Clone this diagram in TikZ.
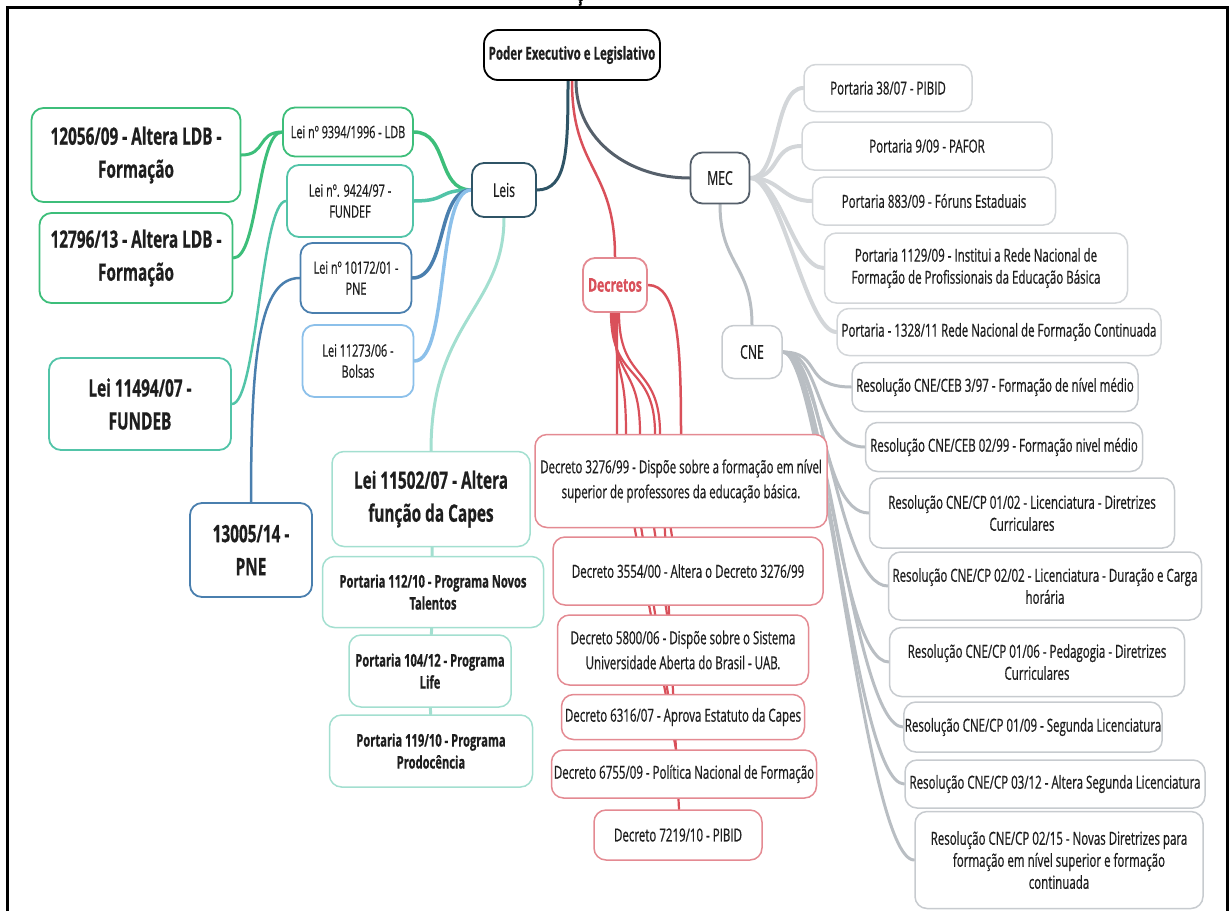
\documentclass[tikz,border=0pt]{standalone}
\usepackage{fontspec}
\setmainfont{Open Sans}[FakeStretch=0.64, FakeBold=0.6]
\usetikzlibrary{backgrounds}
\definecolor{leisblue}{HTML}{2F5466}
\definecolor{ldbgreen}{HTML}{3DBE7A}
\definecolor{fundteal}{HTML}{52C4A8}
\definecolor{pneblue}{HTML}{4A7FAE}
\definecolor{bolsablue}{HTML}{8CC0EA}
\definecolor{capesteal}{HTML}{A3DFD0}
\definecolor{decred}{HTML}{D9505A}
\definecolor{decbox}{HTML}{E48A92}
\definecolor{mecgray}{HTML}{56606B}
\definecolor{portgray}{HTML}{D3D6D9}
\definecolor{cnegray}{HTML}{B9BEC3}
\definecolor{inkgray}{HTML}{1E1E1E}

\begin{document}
\begin{tikzpicture}[x=1pt, y=-1pt,
  box/.style={draw, fill=white, rounded corners=12pt, line width=1.5pt, align=center, inner sep=1pt, text=inkgray, font=\fontsize{18}{22}\selectfont},
  hub/.style={box, line width=1.8pt, font=\fontsize{19}{22}\selectfont},
  bigbox/.style={box, line width=1.8pt, font=\bfseries\fontsize{24}{33}\selectfont},
  lei/.style={box, line width=1.8pt, font=\fontsize{17}{21}\selectfont},
  capes/.style={box, draw=capesteal, font=\bfseries\fontsize{17.5}{22}\selectfont},
  dec/.style={box, draw=decbox, font=\fontsize{18}{25}\selectfont},
  mecbox/.style={box, draw=portgray},
  cnebox/.style={box, draw=cnegray!80},
  link/.style={line width=3pt, line cap=round}
]
\useasboundingbox (0,0) rectangle (1231,911);
\draw[line width=3pt] (7,911) -- (7,7) -- (1227,7) -- (1227,911);
\node[font=\bfseries\fontsize{20}{20}\selectfont, anchor=base] (titlefrag) at (580,1) {ç};

% centre
\node[box, draw=black, line width=1.8pt, rounded corners=14pt, font=\bfseries\fontsize{18}{22}\selectfont, minimum width=176, minimum height=50] (poder) at (572,55) {Poder Executivo e Legislativo};
\node[hub, draw=leisblue, minimum width=64, minimum height=54] (leis) at (504,190) {Leis};
\node[hub, draw=mecgray, minimum width=59, minimum height=51] (mec) at (720,178) {MEC};
\node[hub, draw=decbox, text=decred, font=\bfseries\fontsize{19}{22}\selectfont, minimum width=64, minimum height=54] (decretos) at (615,285) {Decretos};
\node[hub, draw=cnegray!80, line width=1.5pt, minimum width=60, minimum height=53] (cne) at (752,352) {CNE};

% leis
\node[lei, draw=ldbgreen, minimum width=130, minimum height=49] (l9394) at (348,132) {Lei nº 9394/1996 - LDB};
\node[lei, draw=fundteal, minimum width=126, minimum height=72] (l9424) at (350,201) {Lei nº. 9424/97 -\\FUNDEF};
\node[lei, draw=pneblue, minimum width=111, minimum height=70] (l10172) at (356,278) {Lei nº 10172/01 -\\PNE};
\node[lei, draw=bolsablue, minimum width=111, minimum height=72] (l11273) at (358,361) {Lei 11273/06 -\\Bolsas};
\node[bigbox, draw=ldbgreen, minimum width=209, minimum height=94] (f12056) at (136,155) {12056/09 - Altera LDB -\\Formação};
\node[bigbox, draw=ldbgreen, minimum width=193, minimum height=90] (f12796) at (136,258) {12796/13 - Altera LDB -\\Formação};
\node[bigbox, draw=fundteal, minimum width=182, minimum height=92] (f11494) at (140,404) {Lei 11494/07 -\\FUNDEB};
\node[bigbox, draw=pneblue, minimum width=122, minimum height=94] (f13005) at (251,550) {13005/14 -\\PNE};
\node[bigbox, draw=capesteal, line width=1.5pt, minimum width=198, minimum height=95] (c11502) at (431,499) {Lei 11502/07 - Altera\\função da Capes};
\node[capes, minimum width=221, minimum height=71] (c112) at (433,592) {Portaria 112/10 - Programa Novos\\Talentos};
\node[capes, minimum width=162, minimum height=72] (c104) at (430,671) {Portaria 104/12 - Programa\\Life};
\node[capes, minimum width=203, minimum height=72] (c119) at (431,751) {Portaria 119/10 - Programa\\Prodocência};

% decretos
\node[dec, minimum width=292, minimum height=93] (d3276) at (681,481) {Decreto 3276/99 - Dispõe sobre a formação em nível\\superior de professores da educação básica.};
\node[dec, minimum width=270, minimum height=68] (d3554) at (688,571) {Decreto 3554/00 - Altera o Decreto 3276/99};
\node[dec, minimum width=251, minimum height=70] (d5800) at (683,650) {Decreto 5800/06 - Dispõe sobre o Sistema\\Universidade Aberta do Brasil - UAB.};
\node[dec, minimum width=243, minimum height=45] (d6316) at (683,717) {Decreto 6316/07 - Aprova Estatuto da Capes};
\node[dec, minimum width=265, minimum height=48] (d6755) at (684,774) {Decreto 6755/09 - Política Nacional de Formação};
\node[dec, minimum width=168, minimum height=50] (d7219) at (678,835) {Decreto 7219/10 - PIBID};

% mec
\node[mecbox, minimum width=168, minimum height=47] (p38) at (888,88) {Portaria 38/07 - PIBID};
\node[mecbox, minimum width=250, minimum height=48] (p909) at (927,146) {Portaria 9/09 - PAFOR};
\node[mecbox, minimum width=243, minimum height=48] (p883) at (934,201) {Portaria 883/09 - Fóruns Estaduais};
\node[mecbox, minimum width=303, minimum height=70] (p1129) at (976,268) {Portaria 1129/09 - Institui a Rede Nacional de\\Formação de Profissionais da Educação Básica};
\node[mecbox, minimum width=324, minimum height=47] (p1328) at (999,332) {Portaria - 1328/11 Rede Nacional de Formação Continuada};

% cne
\node[cnebox, minimum width=286, minimum height=49] (r397) at (995,387) {Resolução CNE/CEB 3/97 - Formação de nível médio};
\node[cnebox, minimum width=277, minimum height=49] (r0299) at (1004,447) {Resolução CNE/CEB 02/99 - Formação nivel médio};
\node[cnebox, minimum width=305, minimum height=70] (r0102) at (1022,513) {Resolução CNE/CP 01/02 - Licenciatura - Diretrizes\\Curriculares};
\node[cnebox, minimum width=313, minimum height=68] (r0202) at (1045,586) {Resolução CNE/CP 02/02 - Licenciatura - Duração e Carga\\horária};
\node[cnebox, minimum width=295, minimum height=69] (r0106) at (1037,662) {Resolução CNE/CP 01/06 - Pedagogia - Diretrizes\\Curriculares};
\node[cnebox, minimum width=255, minimum height=50] (r0109) at (1033,727) {Resolução CNE/CP 01/09 - Segunda Licenciatura};
\node[cnebox, minimum width=300, minimum height=48] (r0312) at (1055,784) {Resolução CNE/CP 03/12 - Altera Segunda Licenciatura};
\node[cnebox, minimum width=288, minimum height=97] (r0215) at (1059,860) {Resolução CNE/CP 02/15 - Novas Diretrizes para\\formação em nível superior e formação\\continuada};

\begin{scope}[on background layer]
% from the centre
\draw[link, leisblue] ([xshift=-4pt]poder.south) .. controls +(0,70) and +(30,0) .. (leis.east);
\draw[link, decred, line width=2.5pt] (poder.south) .. controls +(0,90) and +(0,-90) .. (decretos.north);
\draw[link, mecgray] ([xshift=4pt]poder.south) .. controls +(0,60) and +(-60,0) .. (mec.west);
% leis
\foreach \t/\c in {l9394/ldbgreen, l9424/fundteal, l10172/pneblue, l11273/bolsablue}
  \draw[link, \c, line width=3.5pt] (leis.west) .. controls +(-35,0) and +(35,0) .. (\t.east);
\draw[link, capesteal] (leis.south) .. controls +(0,90) and +(0,-130) .. (c11502.north);
\draw[link, ldbgreen] (l9394.west) .. controls +(-25,0) and +(25,0) .. (f12056.east);
\draw[link, ldbgreen] (l9394.west) .. controls +(-25,0) and +(25,0) .. (f12796.east);
\draw[link, fundteal, line width=2.5pt] (l9424.west) .. controls +(-25,0) and +(25,0) .. (f11494.east);
\draw[link, pneblue, line width=2.5pt] (l10172.west) .. controls +(-40,0) and +(0,-150) .. (f13005.north);
\draw[link, capesteal] (c11502) -- (c112) -- (c104) -- (c119);
% decretos, running down behind the boxes
\draw[link, decred, line width=2.5pt] (decretos.east) .. controls +(30,0) and +(0,-90) .. (d3276.north);
\foreach \t/\s/\w/\e in {d3554/-4pt/-26pt/-16pt, d5800/-2pt/-41pt/-16pt, d6316/0pt/-55pt/-15pt, d6755/2pt/-64pt/-8pt, d7219/4pt/-21pt/1pt}
  \draw[link, decred, line width=2.2pt] ([xshift=\s]decretos.south) .. controls +(0,70) and +(0,-70) .. ([xshift=\w]d3276.north) -- ([xshift=\e]\t.north);
% mec
\foreach \t in {p38, p909, p883, p1129, p1328}
  \draw[link, portgray, line width=4pt] (mec.east) .. controls +(30,0) and +(-30,0) .. (\t.west);
\draw[link, cnegray] (mec.south) .. controls +(0,60) and +(0,-60) .. (cne.north);
% cne
\foreach \t in {r397, r0299, r0102, r0202, r0106, r0109, r0312, r0215}
  \draw[link, cnegray] (cne.east) .. controls +(40,0) and +(-50,0) .. (\t.west);
\end{scope}
\end{tikzpicture}
\end{document}
